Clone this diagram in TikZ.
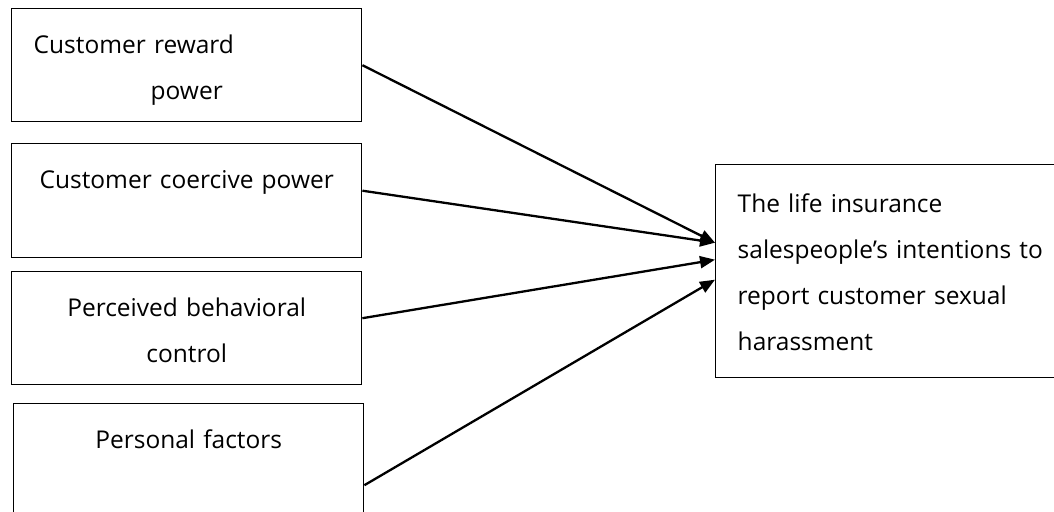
\documentclass[tikz,border=0pt]{standalone}
\usepackage{fontspec}
\setmainfont{Open Sans}
\usetikzlibrary{arrows.meta}

\begin{document}
\begin{tikzpicture}[x=1pt,y=-1pt,
  factor/.style={rectangle,draw,line width=1.4pt,anchor=north west,
    text width=306pt,inner xsep=22pt,inner ysep=0pt,align=center,
    text height=45pt,text depth=68pt,font=\fontsize{24.5}{46}\selectfont},
  link/.style={line width=2.3pt,-{Triangle[length=15pt,width=12pt]}}]
\useasboundingbox (0,0) rectangle (1054,511);
\clip (0,0) rectangle (1054,511);
% the four factors
\node[factor] (reward) at (11,8) {\makebox[306pt][l]{Customer reward}\\power};
\node[factor,text depth=69pt] (coercive) at (11,143) {Customer coercive power};
\node[factor] (control) at (11,271) {Perceived behavioral\\control};
\node[factor] (personal) at (13,403) {Personal factors};
% the outcome
\node[factor,text width=330pt,align=left,text height=48pt,text depth=165pt] (intention) at (715,164)
  {The life insurance\\salespeople’s intentions to\\report customer sexual\\harassment};
% arrows
\coordinate (in1) at ([yshift=28.5pt]intention.west);
\coordinate (in2) at ([yshift=11.5pt]intention.west);
\coordinate (in3) at ([yshift=-8.5pt]intention.west);
\draw[link] (reward.east) -- (in1);
\draw[link] ([yshift=10pt]coercive.east) -- (in1);
\draw[link] ([yshift=10pt]control.east) -- (in2);
\draw[link] ([yshift=-25pt]personal.east) -- (in3);
\end{tikzpicture}
\end{document}
